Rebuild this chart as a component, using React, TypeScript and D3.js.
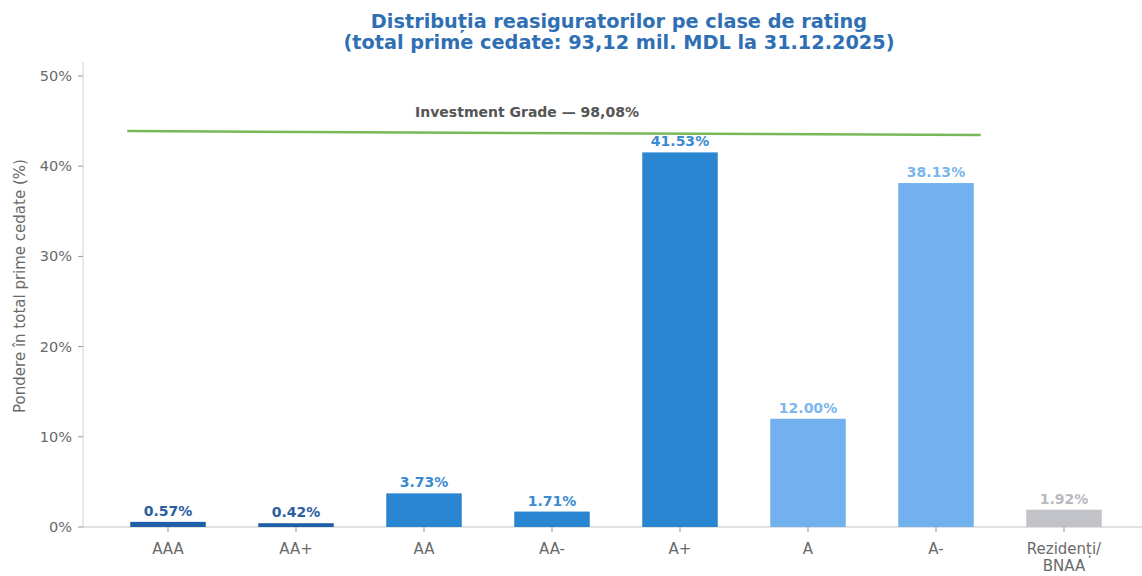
import React from "react";
import * as d3 from "d3";

const categories = ["AAA", "AA+", "AA", "AA-", "A+", "A", "A-", "Rezidenți/\nBNAA"];
const values = [0.57, 0.42, 3.73, 1.71, 41.53, 12.0, 38.13, 1.92];
const groups = ["top", "top", "high", "high", "high", "mid", "mid", "res"];
const yTicks = [0, 10, 20, 30, 40, 50];
const investmentGrade = { level: 44, label: "Investment Grade — 98,08%" };
const titleLines = [
  "Distribuția reasiguratorilor pe clase de rating",
  "(total prime cedate: 93,12 mil. MDL la 31.12.2025)",
];

const barColors: Record<string, string> = {
  top: "#1f5fa8",
  high: "#2b86d2",
  mid: "#72b0ee",
  res: "#c2c3c8",
};
const labelColors: Record<string, string> = {
  top: "#2a5e9e",
  high: "#3a8bd2",
  mid: "#7cb6ee",
  res: "#b8b9be",
};

export default function App() {
  const W = 1142, H = 576;
  const left = 83, bottom = 527, top = 76;
  const x = d3.scaleBand<string>().domain(categories).range([104, 1128]).paddingInner(0.41).paddingOuter(0.205);
  const y = d3.scaleLinear().domain([0, 50]).range([bottom, top]);
  const font = "'DejaVu Sans', sans-serif";
  const igStart = x(categories[0])!;
  const igEnd = x(categories[6])! + x.bandwidth();

  return (
    <svg width={W} height={H} style={{ position: "absolute", left: 0, top: 0, background: "#fff" }} fontFamily={font}>
      {titleLines.map((t, i) => (
        <text key={i} x={619} y={28 + i * 21} textAnchor="middle" fontSize={19.3} fontWeight="bold" fill="#2f6fb4">{t}</text>
      ))}
      {/* axes */}
      <line x1={left} x2={left} y1={62} y2={bottom} stroke="#d2d2d2" strokeWidth={1} />
      <line x1={left} x2={W} y1={bottom} y2={bottom} stroke="#c4c4c4" strokeWidth={1} />
      {yTicks.map((t) => (
        <g key={t}>
          <line x1={left - 5} x2={left} y1={y(t)} y2={y(t)} stroke="#999" />
          <text x={left - 11} y={y(t) + 5} textAnchor="end" fontSize={14.5} fill="#6a6a6a">{t}%</text>
        </g>
      ))}
      <text transform={`translate(25,${286}) rotate(-90)`} textAnchor="middle" fontSize={15} fill="#6a6a6a">
        Pondere în total prime cedate (%)
      </text>
      {/* bars */}
      {categories.map((c, i) => {
        const bx = x(c)!;
        const bw = x.bandwidth();
        const g = groups[i];
        return (
          <g key={c}>
            <rect x={bx} y={y(values[i])} width={bw} height={bottom - y(values[i])} fill={barColors[g]} />
            <text x={bx + bw / 2} y={y(values[i]) - 6} textAnchor="middle" fontSize={14} fontWeight="bold" fill={labelColors[g]}>
              {values[i].toFixed(2)}%
            </text>
            <line x1={bx + bw / 2} x2={bx + bw / 2} y1={bottom} y2={bottom + 5} stroke="#999" />
            {c.split("\n").map((ln, k) => (
              <text key={k} x={bx + bw / 2} y={bottom + 27 + k * 17} textAnchor="middle" fontSize={15} fill="#6a6a6a">{ln}</text>
            ))}
          </g>
        );
      })}
      {/* investment grade line */}
      <line x1={igStart - 3} x2={igEnd + 7} y1={y(investmentGrade.level) + 1} y2={y(investmentGrade.level) + 5} stroke="#79b85a" strokeWidth={2.5} />
      <text x={527} y={y(investmentGrade.level) - 13} textAnchor="middle" fontSize={14} fontWeight="bold" fill="#555">
        {investmentGrade.label}
      </text>
    </svg>
  );
}
